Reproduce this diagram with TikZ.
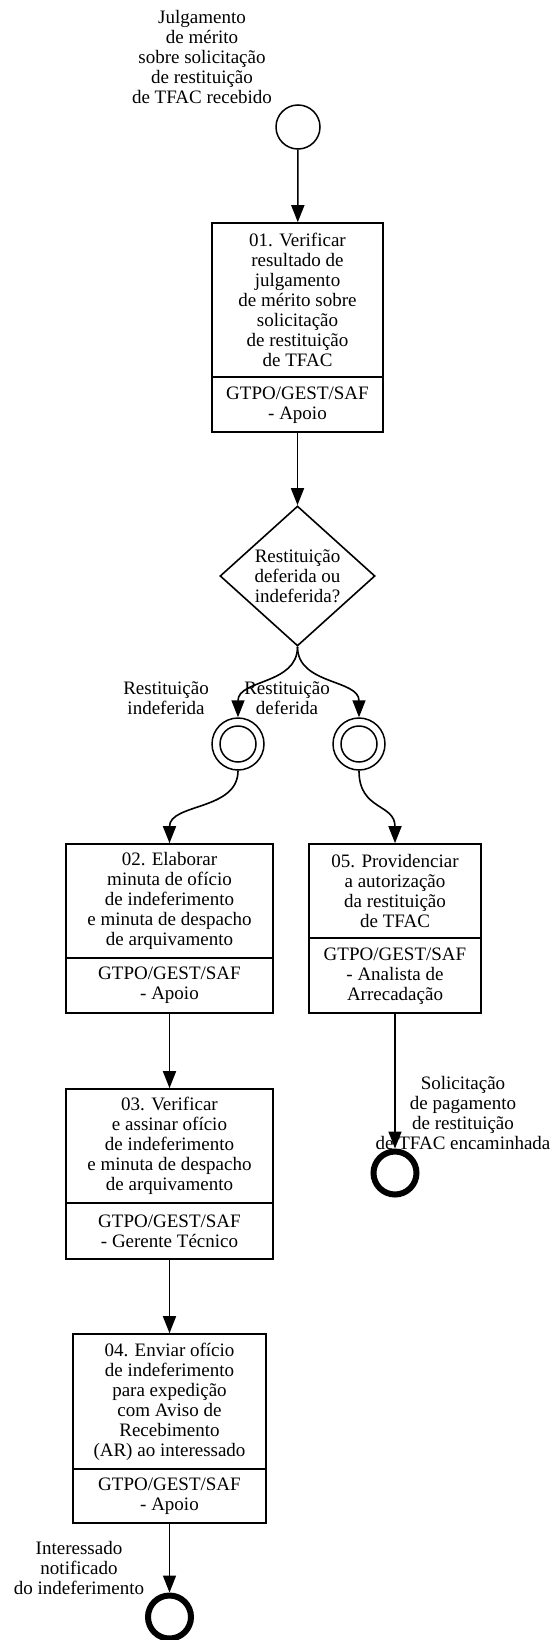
\documentclass[tikz,border=0pt]{standalone}
\usepackage{fontspec}
\setmainfont{Liberation Serif}
\usetikzlibrary{arrows.meta,shapes.geometric}
\tikzset{
  txt/.style={align=center, inner sep=0pt, font=\fontsize{19}{20}\selectfont},
  taskbox/.style={draw, line width=1.6pt, rectangle, inner sep=0pt},
  divline/.style={line width=1.6pt},
  startev/.style={draw, circle, line width=1.5pt, minimum size=44pt, inner sep=0pt},
  interev/.style={draw, circle, line width=1.5pt, minimum size=52pt, inner sep=0pt},
  interin/.style={draw, circle, line width=1.5pt, minimum size=36pt, inner sep=0pt},
  endev/.style={draw, circle, line width=6pt, minimum size=43pt, inner sep=0pt},
  decision/.style={draw, diamond, line width=1.6pt, minimum width=155pt, minimum height=140pt, inner sep=0pt},
  flow/.style={line width=1.6pt, -{Triangle[length=17pt,width=13pt]}}
}
\begin{document}
\begin{tikzpicture}[x=1pt,y=-1pt]
\useasboundingbox (0,0) rectangle (558,1640);

% start event
\node[startev] (s) at (298,127) {};
\node[txt] (slab) at (202,57) {Julgamento\\de mérito\\sobre solicitação\\de restituição\\de TFAC recebido};

% task 01
\node[taskbox, minimum width=171pt, minimum height=209pt] (b1) at (297.5,327.5) {};
\draw[divline] (212,377) -- (383,377);
\node[txt] (b1t) at (297.5,300) {01. Verificar\\resultado de\\julgamento\\de mérito sobre\\solicitação\\de restituição\\de TFAC};
\node[txt] (b1r) at (297.5,405) {GTPO/GEST/SAF\\- Apoio};

% decision
\node[decision] (d) at (297.5,576) {};
\node[txt] (dt) at (297.5,576) {Restituição\\deferida ou\\indeferida?};

% intermediate events
\node[interev] (gi) at (238,744) {};
\node[interin] (gii) at (238,744) {};
\node[interev] (gd) at (359,744) {};
\node[interin] (gdi) at (359,744) {};
\node[txt] (li) at (166,698) {Restituição\\indeferida};
\node[txt] (ld) at (287,698) {Restituição\\deferida};

% task 02
\node[taskbox, minimum width=207pt, minimum height=169pt] (b2) at (169.5,928.5) {};
\draw[divline] (66,958) -- (273,958);
\node[txt] (b2t) at (169.5,901) {02. Elaborar\\minuta de ofício\\de indeferimento\\e minuta de despacho\\de arquivamento};
\node[txt] (b2r) at (169.5,985.5) {GTPO/GEST/SAF\\- Apoio};

% task 05
\node[taskbox, minimum width=172pt, minimum height=169pt] (b5) at (395,928.5) {};
\draw[divline] (309,938) -- (481,938);
\node[txt] (b5t) at (395,891) {05. Providenciar\\a autorização\\da restituição\\de TFAC};
\node[txt] (b5r) at (395,976) {GTPO/GEST/SAF\\- Analista de\\Arrecadação};

% task 03
\node[taskbox, minimum width=207pt, minimum height=170pt] (b3) at (169.5,1174) {};
\draw[divline] (66,1203) -- (273,1203);
\node[txt] (b3t) at (169.5,1146) {03. Verificar\\e assinar ofício\\de indeferimento\\e minuta de despacho\\de arquivamento};
\node[txt] (b3r) at (169.5,1231) {GTPO/GEST/SAF\\- Gerente Técnico};

% task 04
\node[taskbox, minimum width=193pt, minimum height=189pt] (b4) at (169.5,1428.5) {};
\draw[divline] (73,1469) -- (266,1469);
\node[txt] (b4t) at (169.5,1401.5) {04. Enviar ofício\\de indeferimento\\para expedição\\com Aviso de\\Recebimento\\(AR) ao interessado};
\node[txt] (b4r) at (169.5,1496) {GTPO/GEST/SAF\\- Apoio};

% end events
\node[endev] (e2) at (395,1173) {};
\node[endev] (e1) at (169.5,1617) {};

% connectors
\draw[flow] (s) -- (b1);
\draw[flow] (b1) -- (d);
\draw[flow] (d.south) .. controls +(0,38) and +(0,-38) .. (gi.north);
\draw[flow] (d.south) .. controls +(0,38) and +(0,-38) .. (gd.north);
\draw[flow] (gi.south) .. controls +(0,40) and +(0,-40) .. (b2.north);
\draw[flow] (gd.south) .. controls +(0,40) and +(0,-40) .. (b5.north);
\draw[flow] (b2) -- (b3);
\draw[flow] (b3) -- (b4);
\draw[flow] (b4) -- (e1);
\draw[flow] (b5) -- (e2);

\node[txt] (l2) at (463,1113) {Solicitação\\de pagamento\\de restituição\\de TFAC encaminhada};
\node[txt] (l1) at (79,1568) {Interessado\\notificado\\do indeferimento};
\end{tikzpicture}
\end{document}
